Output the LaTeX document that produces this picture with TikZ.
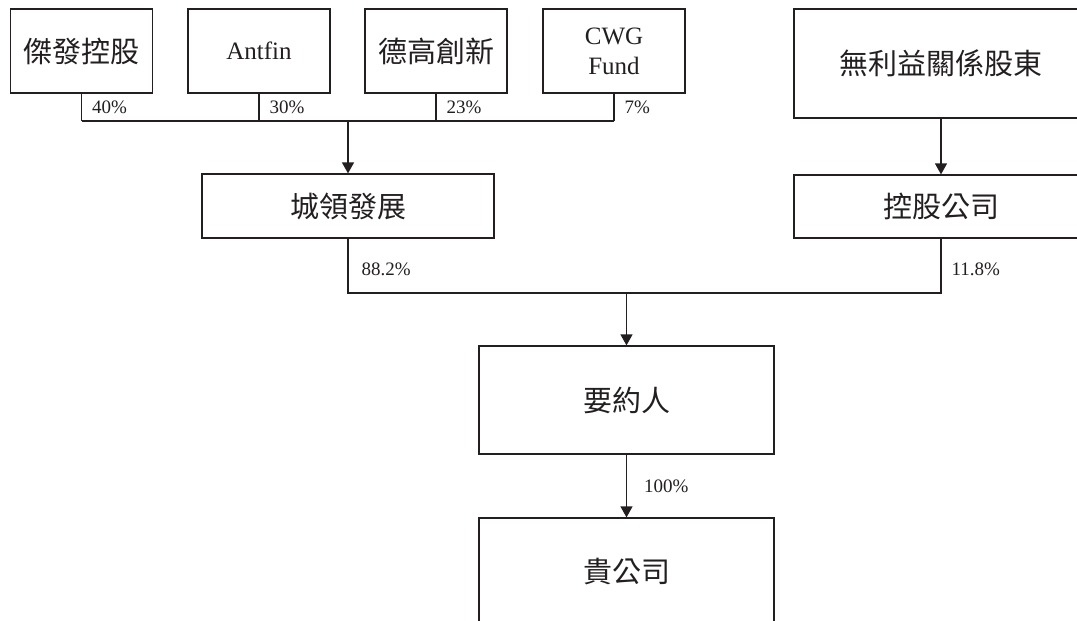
\documentclass[tikz,border=0pt]{standalone}
\usepackage{fontspec}
\setmainfont{Liberation Serif}
\newfontfamily\cjk{Noto Sans CJK TC}
\usetikzlibrary{positioning,arrows.meta}
\definecolor{ink}{HTML}{231F20}
\newcommand{\zh}[1]{{\fontsize{29}{34}\selectfont\cjk #1}}

\begin{document}
\begin{tikzpicture}[x=1pt,y=-1pt,ink,line width=1.2pt,
  box/.style={draw,minimum width=142pt,minimum height=84pt,align=center,font=\fontsize{25}{30}\selectfont},
  pct/.style={inner sep=0pt,font=\fontsize{19}{22}\selectfont},
  arr/.style={-{Triangle[width=12pt,length=11pt]}}]
  \clip (0,0) rectangle (1077,621);
  \coordinate (bus1) at (0,121);
  \coordinate (bus2) at (0,293);
  \foreach \n/\t/\x/\p in {jf/\zh{傑發控股}/81.5/40,antfin/Antfin/259/30,degao/\zh{德高創新}/436/23,cwg/{CWG\\Fund}/614/7}{
    \node[box] (\n) at (\x,51) {\t};
    \draw (\n.south) -- (\n.south |- bus1);
    \node[pct,below right=7pt and 10pt of \n.south] (p\n) {\p\%};
  }
  \draw (jf.south |- bus1) -- (cwg.south |- bus1);
  \node[box,minimum width=292pt,minimum height=64pt] (chengling) at (348,206) {\zh{城領發展}};
  \draw[arr] (chengling.north |- bus1) -- (chengling.north);
  \node[box,minimum width=294pt,minimum height=109pt] (holders) at (941,63.5) {\zh{無利益關係股東}};
  \node[box,minimum width=294pt,minimum height=63pt] (holdco) at (941,206.5) {\zh{控股公司}};
  \draw[arr] (holders) -- (holdco);
  \draw (chengling.south) |- (holdco.south |- bus2) -- (holdco.south);
  \node[pct,below right=24pt and 13pt of chengling.south] (p88) {88.2\%};
  \node[pct,below right=24pt and 10pt of holdco.south] (p11) {11.8\%};
  \node[box,minimum width=295pt,minimum height=108pt] (offeror) at (626.5,400) {\zh{要約人}};
  \node[box,minimum width=295pt,minimum height=108pt] (company) at (626.5,572) {\zh{貴公司}};
  \draw[arr] (offeror.north |- bus2) -- (offeror.north);
  \draw[arr] (offeror) -- (company);
  \node[pct,below right=25pt and 17pt of offeror.south] (p100) {100\%};
\end{tikzpicture}
\end{document}
